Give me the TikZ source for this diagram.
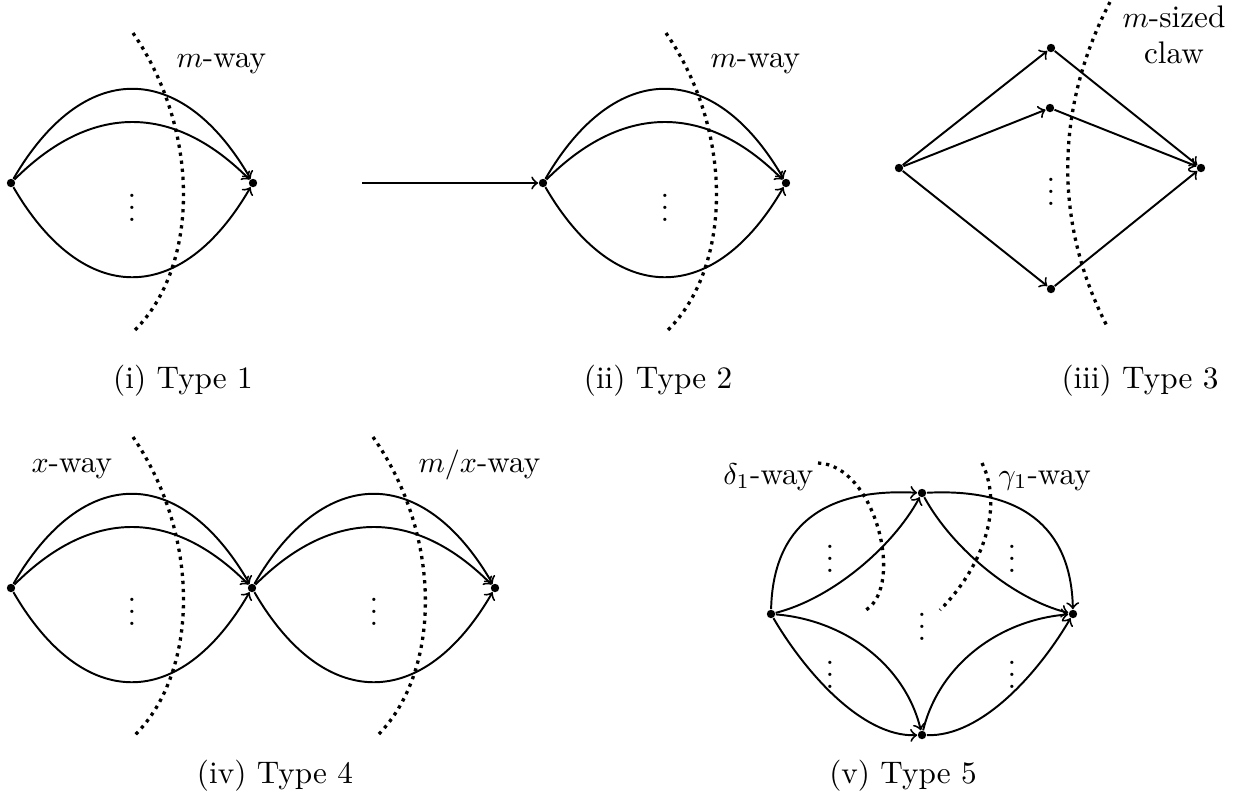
\documentclass[tikz,border=0pt]{standalone}
\usetikzlibrary{calc}
\newcommand{\lensarcs}[2]{%
  \draw[edge] (#1) .. controls ($(#1)+(72,-124)$) and ($(#2)+(-72,-124)$) .. (#2);
  \draw[edge] (#1) .. controls ($(#1)+(80,-80)$) and ($(#2)+(-80,-80)$) .. (#2);
  \draw[edge] (#1) .. controls ($(#1)+(72,124)$) and ($(#2)+(-72,124)$) .. (#2);}
\begin{document}
\begin{tikzpicture}[x=0.3333pt,y=-0.3333pt,
  font=\fontsize{10.4}{12}\selectfont,
  vtx/.style={circle,fill,inner sep=0pt,minimum size=2.8pt},
  edge/.style={line width=0.65pt,->},
  cut/.style={line width=1.1pt,dash pattern=on 1.1pt off 1.6pt},
  lbl/.style={inner sep=0pt,anchor=base west},
  captxt/.style={inner sep=0pt,anchor=base},
  vd/.style={inner sep=0pt,anchor=base}]
\useasboundingbox (0,0) rectangle (1240,797);
% ---------- (i) Type 1 ----------
\node[vtx] (a1) at (11,183) {};
\node[vtx] (b1) at (253,183) {};
\lensarcs{a1}{b1}
\node[vd] (d1) at (132,221.6) {$\vdots$};
\draw[cut] (133,33) .. controls (200,130) and (200,265) .. (135,330);
\node[lbl] (l1) at (176,67) {$m$-way};
\node[captxt] (c1) at (183,388) {(i) Type 1};
% ---------- (ii) Type 2 ----------
\coordinate (s2) at (362,183);
\node[vtx] (a2) at (543,183) {};
\node[vtx] (b2) at (786,183) {};
\draw[edge] (s2) -- (a2);
\lensarcs{a2}{b2}
\node[vd] (d2) at (665,221.6) {$\vdots$};
\draw[cut] (666,33) .. controls (733,130) and (733,265) .. (668,330);
\node[lbl] (l2) at (710,67) {$m$-way};
\node[captxt] (c2) at (658,388) {(ii) Type 2};
% ---------- (iii) Type 3 ----------
\node[vtx] (a3) at (899,168) {};
\node[vtx] (t3) at (1051,48) {};
\node[vtx] (u3) at (1050,108) {};
\node[vtx] (w3) at (1051,289) {};
\node[vtx] (b3) at (1201,168) {};
\draw[edge] (a3) -- (t3);
\draw[edge] (a3) -- (u3);
\draw[edge] (a3) -- (w3);
\draw[edge] (t3) -- (b3);
\draw[edge] (u3) -- (b3);
\draw[edge] (w3) -- (b3);
\node[vd] (d3) at (1051,205.6) {$\vdots$};
\draw[cut] (1110,2) .. controls (1054,110) and (1054,225) .. (1108,328);
\node[inner sep=0pt,align=center] (l3) at (1174,35) {$m$-sized\\claw};
\node[captxt] (c3) at (1140,388) {(iii) Type 3};
% ---------- (iv) Type 4 ----------
\node[vtx] (a4) at (11,588) {};
\node[vtx] (m4) at (252,588) {};
\node[vtx] (b4) at (495,588) {};
\lensarcs{a4}{m4}
\lensarcs{m4}{b4}
\node[vd] (d4) at (132,625.6) {$\vdots$};
\node[vd] (e4) at (374,625.6) {$\vdots$};
\draw[cut] (133,437) .. controls (200,535) and (200,670) .. (135,735);
\draw[cut] (373,437) .. controls (442,535) and (442,670) .. (378,735);
\node[lbl] (l4) at (31,472) {$x$-way};
\node[lbl] (k4) at (418,472) {$m/x$-way};
\node[captxt] (c4) at (275,783) {(iv) Type 4};
% ---------- (v) Type 5 ----------
\node[vtx] (L5) at (771,614) {};
\node[vtx] (T5) at (922,493) {};
\node[vtx] (R5) at (1073,614) {};
\node[vtx] (B5) at (922,735) {};
\draw[edge] (L5) .. controls (773,525) and (825,488) .. (T5);
\draw[edge] (T5) .. controls (1019,488) and (1071,525) .. (R5);
\draw[edge] (L5) .. controls (805,672) and (862,737) .. (B5);
\draw[edge] (B5) .. controls (982,737) and (1039,672) .. (R5);
\draw[edge] (L5) .. controls (831,599) and (892,548) .. (T5);
\draw[edge] (T5) .. controls (952,548) and (1013,599) .. (R5);
\draw[edge] (L5) .. controls (845,620) and (905,665) .. (B5);
\draw[edge] (B5) .. controls (939,665) and (999,620) .. (R5);
\node[vd] (d5a) at (830,572.6) {$\vdots$};
\node[vd] (d5b) at (1012,572.6) {$\vdots$};
\node[vd] (d5c) at (830,688.6) {$\vdots$};
\node[vd] (d5d) at (1012,688.6) {$\vdots$};
\node[vd] (d5e) at (922,640.6) {$\vdots$};
\draw[cut] (818,463) .. controls (875,465) and (905,585) .. (866,610);
\draw[cut] (982,463) .. controls (1005,510) and (980,570) .. (940,610);
\node[inner sep=0pt,anchor=base east] (l5) at (814,484) {$\delta_1$-way};
\node[lbl] (k5) at (998,484) {$\gamma_1$-way};
\node[captxt] (c5) at (903,783) {(v) Type 5};
\end{tikzpicture}
\end{document}
